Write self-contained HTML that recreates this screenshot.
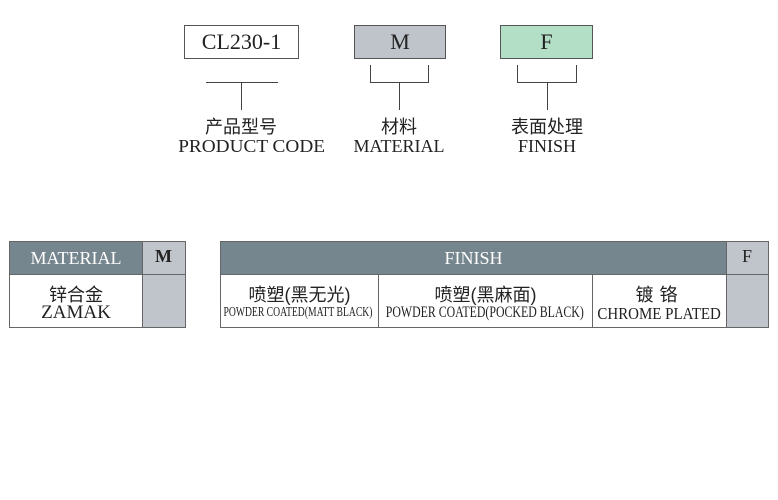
<!DOCTYPE html>
<html><head><meta charset="utf-8"><style>
body{margin:0;width:778px;height:500px;background:#fff;position:relative;overflow:hidden;font-family:"Liberation Serif","Noto Serif CJK SC",serif;color:#222}
.a{position:absolute;box-sizing:border-box}
.t{position:absolute;text-align:center;white-space:nowrap}
.t span{display:inline-block}
.l{position:absolute;background:#444}
.cj{font-family:"Liberation Sans","Noto Sans CJK SC",sans-serif}
.hd{background:#76868e;color:#fff}
.g{background:#bfc5cb}
</style></head><body>
<div class="a" style="left:184px;top:25px;width:115px;height:34px;border:1px solid #555;font-size:22px;text-align:center;line-height:32px">CL230-1</div>
<div class="a" style="left:354px;top:25px;width:92px;height:34px;border:1px solid #555;background:#bec4ca;font-size:22px;text-align:center;line-height:32px">M</div>
<div class="a" style="left:500px;top:25px;width:93px;height:34px;border:1px solid #555;background:#b3dfc6;font-size:22px;text-align:center;line-height:32px">F</div>

<div class="l" style="left:206px;top:82px;width:72px;height:1px"></div>
<div class="l" style="left:241px;top:82px;width:1px;height:28px"></div>
<div class="l" style="left:370px;top:65px;width:1px;height:18px"></div>
<div class="l" style="left:428px;top:65px;width:1px;height:18px"></div>
<div class="l" style="left:370px;top:82px;width:59px;height:1px"></div>
<div class="l" style="left:399px;top:82px;width:1px;height:28px"></div>
<div class="l" style="left:517px;top:65px;width:1px;height:18px"></div>
<div class="l" style="left:576px;top:65px;width:1px;height:18px"></div>
<div class="l" style="left:517px;top:82px;width:60px;height:1px"></div>
<div class="l" style="left:547px;top:82px;width:1px;height:28px"></div>

<div class="t cj" style="left:141px;width:200px;top:113px;font-size:18px">产品型号</div>
<div class="t" style="left:52px;width:400px;top:136px;font-size:18px"><span style="transform:scaleX(1.07)">PRODUCT CODE</span></div>
<div class="t cj" style="left:299px;width:200px;top:113px;font-size:18px">材料</div>
<div class="t" style="left:299px;width:200px;top:136px;font-size:18px">MATERIAL</div>
<div class="t cj" style="left:447px;width:200px;top:113px;font-size:18px">表面处理</div>
<div class="t" style="left:447px;width:200px;top:136px;font-size:18px">FINISH</div>

<!-- material table -->
<div class="a" style="left:9px;top:241px;width:177px;height:87px;border:1px solid #666"></div>
<div class="a hd" style="left:10px;top:242px;width:132px;height:32px;font-size:18px;text-align:center;line-height:32px">MATERIAL</div>
<div class="a g" style="left:142px;top:242px;width:43px;height:85px;border-left:1px solid #666"></div>
<div class="t" style="left:142px;width:43px;top:246px;font-size:18px;font-weight:bold">M</div>
<div class="l" style="left:10px;top:274px;width:175px;height:1px;background:#666"></div>
<div class="t cj" style="left:10px;width:132px;top:281px;font-size:18px">锌合金</div>
<div class="t" style="left:10px;width:132px;top:302px;font-size:19px">ZAMAK</div>

<!-- finish table -->
<div class="a" style="left:220px;top:241px;width:549px;height:87px;border:1px solid #666"></div>
<div class="a hd" style="left:221px;top:242px;width:505px;height:32px;font-size:18px;text-align:center;line-height:32px">FINISH</div>
<div class="a g" style="left:726px;top:242px;width:42px;height:85px;border-left:1px solid #666"></div>
<div class="t" style="left:726px;width:42px;top:246px;font-size:18px">F</div>
<div class="l" style="left:221px;top:274px;width:547px;height:1px;background:#666"></div>
<div class="l" style="left:378px;top:274px;width:1px;height:53px;background:#666"></div>
<div class="l" style="left:592px;top:274px;width:1px;height:53px;background:#666"></div>
<div class="t cj" style="left:221px;width:157px;top:281px;font-size:18px">喷塑(黑无光)</div>
<div class="t" style="left:98px;width:400px;top:305px;font-size:14px"><span style="transform:scaleX(0.69)">POWDER COATED(MATT BLACK)</span></div>
<div class="t cj" style="left:379px;width:213px;top:281px;font-size:18px">喷塑(黑麻面)</div>
<div class="t" style="left:285px;width:400px;top:304px;font-size:16px"><span style="transform:scaleX(0.74)">POWDER COATED(POCKED BLACK)</span></div>
<div class="t cj" style="left:593px;width:133px;top:281px;font-size:18px;letter-spacing:6px">镀铬</div>
<div class="t" style="left:459px;width:400px;top:304px;font-size:17px"><span style="transform:scaleX(0.88)">CHROME PLATED</span></div>
</body></html>
